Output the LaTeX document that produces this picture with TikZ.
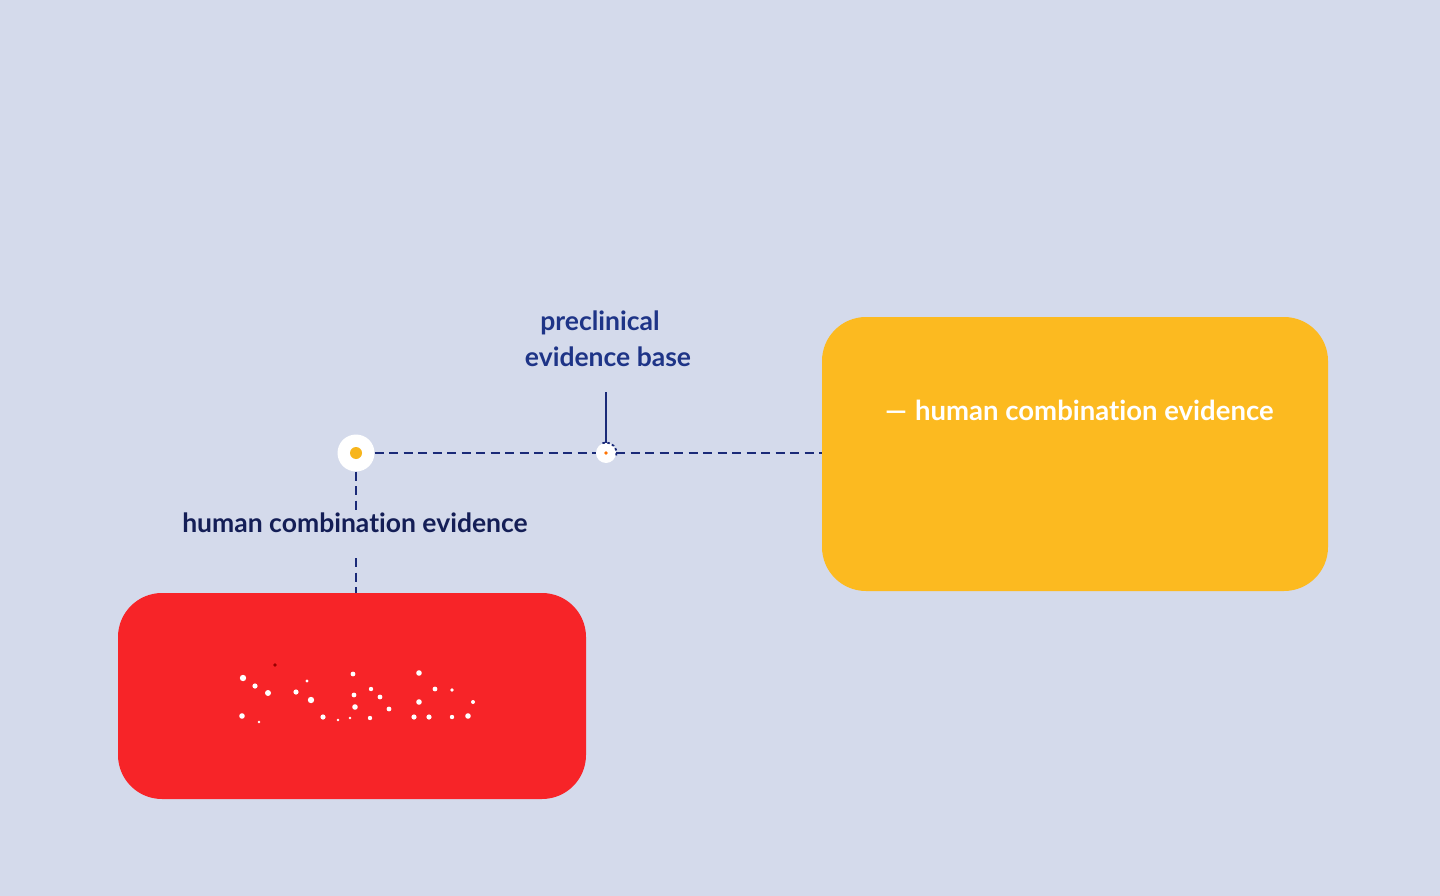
\documentclass[tikz,border=0pt]{standalone}
\usepackage{fontspec}
\setmainfont{Lato}[Ligatures=NoCommon]
\definecolor{bg}{HTML}{D4DAEB}
\definecolor{boxred}{HTML}{F72428}
\definecolor{boxyel}{HTML}{FCBA20}
\definecolor{navy}{HTML}{1A2A78}
\definecolor{darknavy}{HTML}{141E56}
\definecolor{labblue}{HTML}{1E3487}
\definecolor{dotyel}{HTML}{F7B51C}
\begin{document}
\begin{tikzpicture}[x=1pt,y=-1pt,
  conn/.style={navy,line width=2.7pt,dash pattern=on 9pt off 5.5pt},
  solidconn/.style={navy,line width=2.8pt},
  lab/.style={font=\bfseries\fontsize{26.5}{36}\selectfont,inner sep=0pt},
  sparkle/.style={fill=white,draw=none}]
\fill[bg] (0,0) rectangle (1440,896);
\useasboundingbox (0,0) rectangle (1440,896);
% panels
\fill[boxred,rounded corners=44pt] (118,593) rectangle (586,799);
\fill[boxyel,rounded corners=44pt] (822,317) rectangle (1328,591);
\coordinate (redtop) at (356,593);
\coordinate (yelleft) at (822,453);
% hubs
\node[circle,fill=white,minimum size=37pt,inner sep=0pt] (hub) at (356,453) {};
\fill[dotyel] (hub.center) circle (6pt);
\node[circle,fill=white,minimum size=20pt,inner sep=0pt] (mid) at (606,453) {};
\fill[orange!90!red] (mid.center) circle (1.8pt);
\draw[navy,line width=1.8pt,dash pattern=on 2.5pt off 2.5pt] (mid.center) ++(-110:10.5) arc[start angle=-110,end angle=15,radius=10.5];
% labels
\node[lab,text=labblue,align=center] (pre) at (608,339) {\hspace*{-16pt}preclinical\\evidence base};
\coordinate (pretop) at (606,392);
\node[lab,text=darknavy] (hce) at (355,523) {human combination evidence};
\node[lab,text=white,anchor=west,font=\bfseries\fontsize{27.5}{36}\selectfont] (yt) at (885,410) {—\hspace{8pt}human combination evidence};
% connectors
\draw[solidconn] (pretop) -- (mid.north);
\draw[conn] (hub.east) -- (mid.west);
\draw[conn] (mid.east) -- (yelleft);
\draw[conn] (hub.south) -- (356,512);
\draw[conn] (356,558) -- (redtop);
% sparkles
\foreach \x/\y/\r in {243/678/3.2,255/686/2.6,268/693/3,307/681/1.6,296/692/2.6,311/700/3.2,242/716/2.8,259/722/1.3,323/717/2.6,338/720/1.3,350/718/1.3,353/674/2.4,354/695/2.4,355/707/2.8,370/718/2.2,371/689/2.2,380/697/2.4,389/709/2.4,419/673/2.8,435/689/2.4,419/702/2.8,414/717/2.6,429/717/2.6,452/690/1.8,452/717/2.2,468/716/2.8,473/702/2}
  \fill[sparkle] (\x,\y) circle (\r pt);
\fill[red!60!black] (275,665) circle (1.8pt);
\end{tikzpicture}
\end{document}
